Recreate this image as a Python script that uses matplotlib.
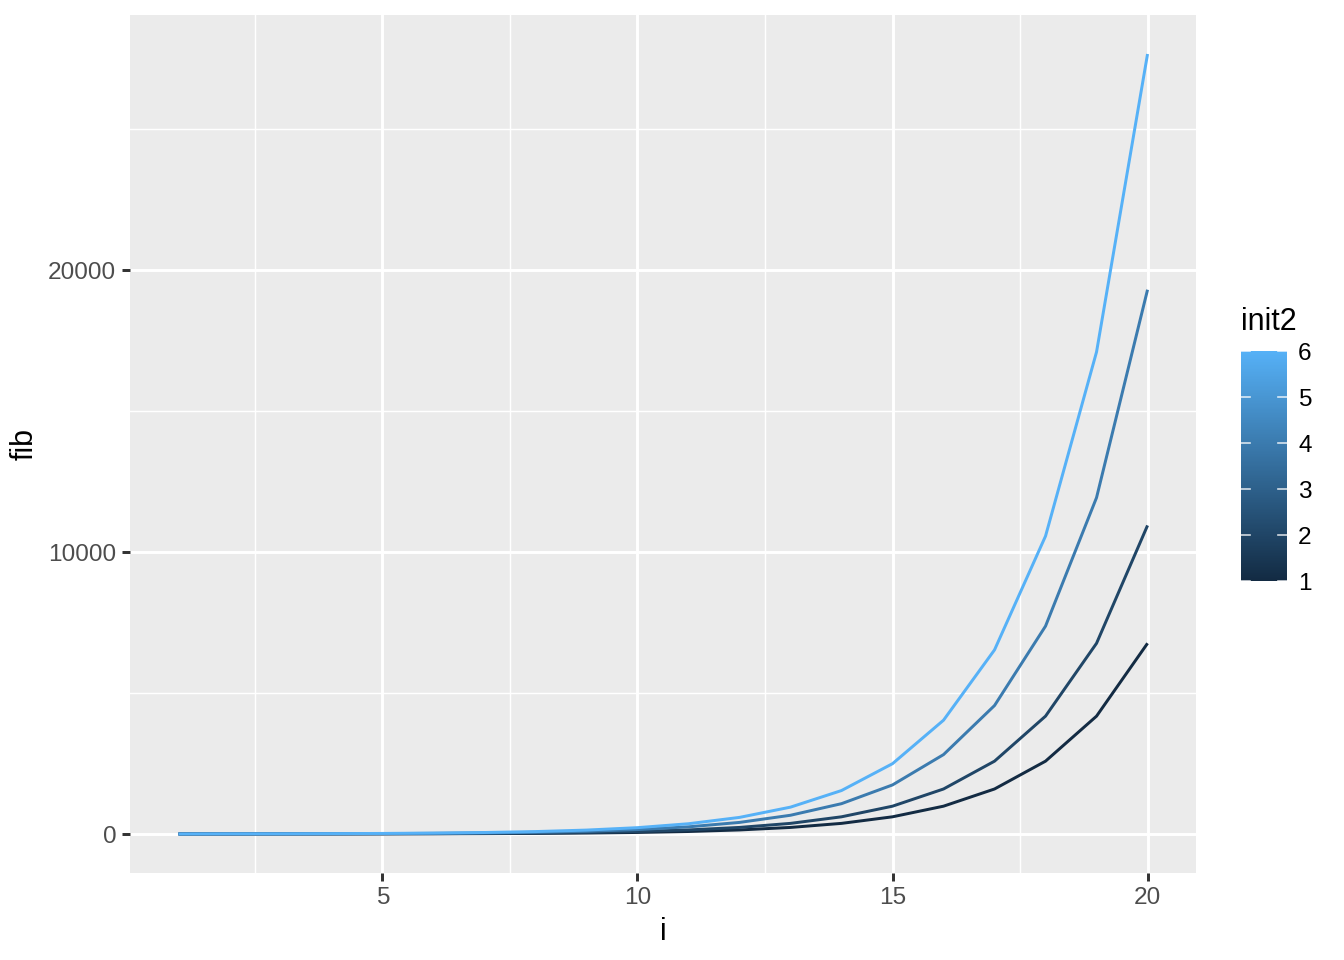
import numpy as np
import matplotlib
matplotlib.use("Agg")
import matplotlib.pyplot as plt
from matplotlib.colors import LinearSegmentedColormap

plt.rcParams['font.family'] = ['Liberation Sans', 'DejaVu Sans']

i = list(range(1, 21))
init2 = [1, 2, 4, 6]
fib_1 = [1, 1, 2, 3, 5, 8, 13, 21, 34, 55, 89, 144, 233, 377, 610, 987, 1597, 2584, 4181, 6765]
fib_2 = [1, 2, 3, 5, 8, 13, 21, 34, 55, 89, 144, 233, 377, 610, 987, 1597, 2584, 4181, 6765, 10946]
fib_4 = [1, 4, 5, 9, 14, 23, 37, 60, 97, 157, 254, 411, 665, 1076, 1741, 2817, 4558, 7375, 11933, 19308]
fib_6 = [1, 6, 7, 13, 20, 33, 53, 86, 139, 225, 364, 589, 953, 1542, 2495, 4037, 6532, 10569, 17101, 27670]
series = [fib_1, fib_2, fib_4, fib_6]

cmap = LinearSegmentedColormap.from_list('gg', ['#132B43', '#56B1F7'])
norm = plt.Normalize(1, 6)

fig = plt.figure(figsize=(6.72, 4.8), dpi=200)
ax = fig.add_axes([130/1344, 1 - 873/960, (1196-130)/1344, (873-15)/960])
ax.set_facecolor('#EBEBEB')

for k, ys in zip(init2, series):
    ax.plot(i, ys, color=cmap(norm(k)), lw=1.07, zorder=3, solid_capstyle='butt')

ax.set_xlim(0.05, 20.95)
ax.set_ylim(-1383.45, 29053.45)
ax.set_xticks([5, 10, 15, 20])
ax.set_xticks([2.5, 7.5, 12.5, 17.5], minor=True)
ax.set_yticks([0, 10000, 20000])
ax.set_yticks([5000, 15000, 25000], minor=True)
ax.grid(which='major', color='white', lw=1.07)
ax.grid(which='minor', color='white', lw=0.53)
ax.set_axisbelow(True)
for s in ax.spines.values():
    s.set_visible(False)
ax.tick_params(which='major', length=2.75, width=1.07, color='#333333',
               labelsize=8.8, labelcolor='#4D4D4D', pad=2.2)
ax.tick_params(which='minor', length=0)
ax.set_xlabel('i', fontsize=11, labelpad=3)
ax.set_ylabel('fib', fontsize=11, labelpad=3)

# colourbar legend
cax = fig.add_axes([1241/1344, 1 - 581/960, 46/1344, 230/960])
grad = np.linspace(1, 6, 300).reshape(-1, 1)
cax.imshow(grad, cmap=cmap, norm=norm, aspect='auto', origin='lower',
           extent=[0, 1, 1, 6])
cax.set_xlim(0, 1)
cax.set_ylim(1, 6)
for s in cax.spines.values():
    s.set_visible(False)
cax.set_xticks([])
cax.yaxis.tick_right()
cax.set_yticks([1, 2, 3, 4, 5, 6])
cax.tick_params(axis='y', length=0, labelsize=8.8, labelcolor='black', pad=4)
for v in [1, 2, 3, 4, 5, 6]:
    cax.plot([0, 0.2], [v, v], color='white', lw=0.6, alpha=0.8)
    cax.plot([0.8, 1], [v, v], color='white', lw=0.6, alpha=0.8)
fig.text(1241/1344, 1 - 322/960, 'init2', fontsize=11, ha='left', va='center')

fig.savefig('out.png', dpi=200)
